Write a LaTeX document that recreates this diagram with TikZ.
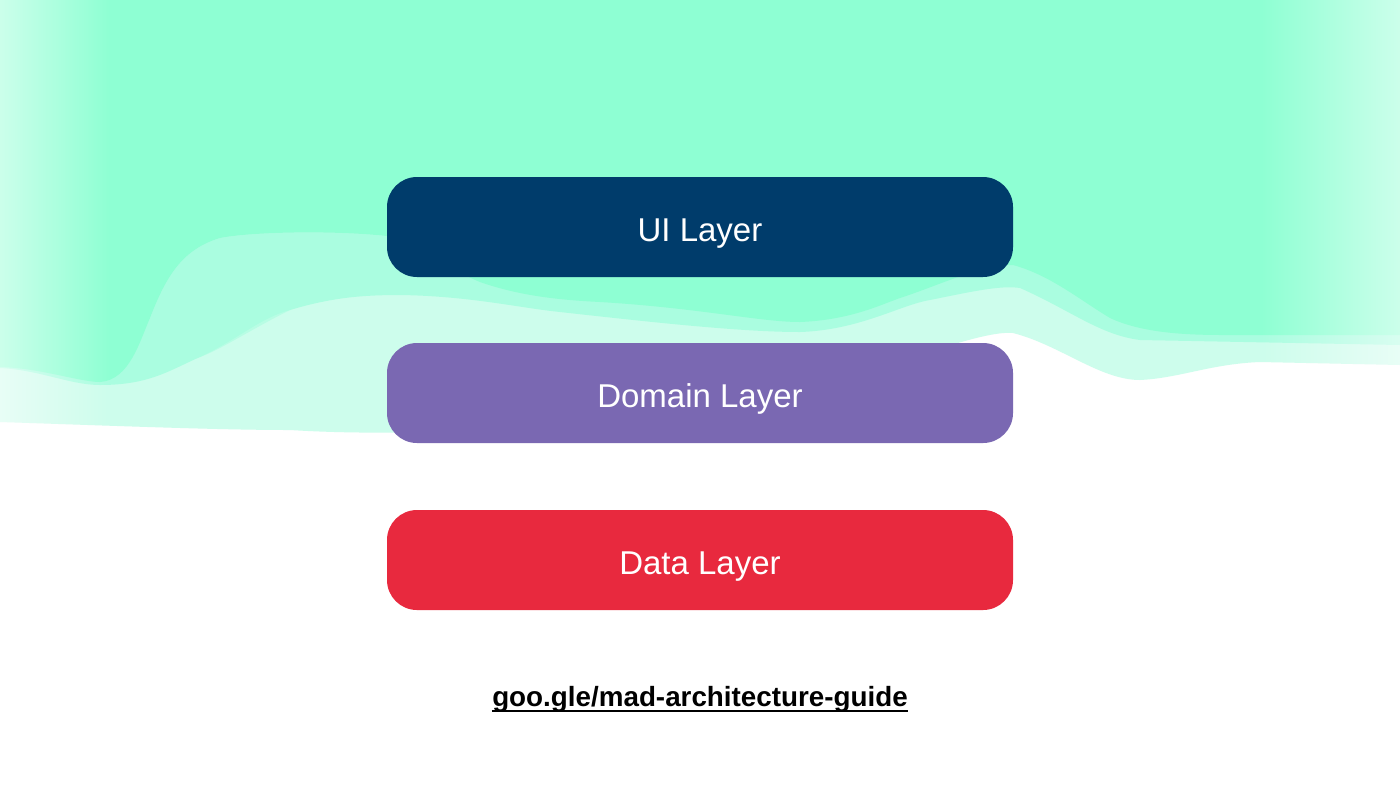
\documentclass[tikz,border=0pt]{standalone}
\usepackage{fontspec}
\setmainfont{Liberation Sans}
\usetikzlibrary{fadings}
\tikzfading[name=fadeRight, left color=transparent!0, right color=transparent!100]
\tikzfading[name=fadeLeft, left color=transparent!100, right color=transparent!0]
\definecolor{uiblue}{RGB}{0,60,107}
\definecolor{dompurple}{RGB}{122,104,178}
\definecolor{datared}{RGB}{232,41,62}
\definecolor{greenA}{RGB}{142,255,211}
\definecolor{greenB}{RGB}{170,253,224}
\definecolor{greenC}{RGB}{205,253,236}
\tikzset{
  layerbox/.style={fill=#1, draw=none, rounded corners=15pt, minimum width=313pt,
    minimum height=50pt, text=white, font=\fontsize{16.5}{18}\selectfont,
    text height=1.4em, text depth=0pt, inner sep=0pt},
  linktext/.style={font=\bfseries\fontsize{13.9}{16}\selectfont, text=black, inner sep=0pt}
}
\begin{document}
\begin{tikzpicture}[x=0.5pt, y=-0.5pt]
\useasboundingbox (0,0) rectangle (1400,788);
% background
\fill[white] (0,0) rectangle (1400,788);
\fill[greenC] (0,0) -- (0,422) .. controls (120,426) and (220,430) .. (290,430)
  .. controls (450,440) and (650,420) .. (800,390)
  .. controls (900,365) and (980,330) .. (1013,333)
  .. controls (1060,345) and (1100,380) .. (1140,380)
  .. controls (1180,378) and (1210,364) .. (1260,362)
  -- (1400,365) -- (1400,0) -- cycle;
\fill[greenB] (0,0) -- (0,368) .. controls (40,370) and (70,385) .. (100,385)
  .. controls (150,385) and (170,370) .. (200,357)
  .. controls (240,338) and (260,318) .. (290,310)
  .. controls (330,298) and (360,295) .. (400,295)
  .. controls (470,296) and (520,308) .. (560,312)
  .. controls (650,322) and (740,332) .. (800,332)
  .. controls (860,330) and (900,305) .. (930,300)
  .. controls (970,292) and (1000,285) .. (1020,288)
  .. controls (1070,310) and (1100,335) .. (1140,340)
  -- (1400,345) -- (1400,0) -- cycle;
\fill[greenA] (0,0) -- (0,367) .. controls (40,368) and (80,382) .. (100,382)
  .. controls (130,380) and (140,340) .. (150,318)
  .. controls (165,280) and (180,250) .. (220,238)
  .. controls (250,232) and (330,230) .. (387,236)
  .. controls (430,250) and (450,270) .. (480,282)
  .. controls (520,296) and (560,300) .. (600,302)
  .. controls (700,308) and (760,322) .. (800,322)
  .. controls (850,320) and (880,305) .. (900,298)
  .. controls (940,285) and (980,265) .. (1013,265)
  .. controls (1050,275) and (1080,300) .. (1110,318)
  .. controls (1140,332) and (1180,335) .. (1223,335)
  -- (1400,335) -- (1400,0) -- cycle;
% soft lighter swoosh on the left
\fill[greenB, opacity=0.6] (150,318) .. controls (165,280) and (180,250) .. (220,238)
  .. controls (250,232) and (330,230) .. (387,236) -- (387,292)
  .. controls (340,296) and (300,305) .. (290,310)
  .. controls (250,330) and (220,350) .. (200,357)
  .. controls (180,365) and (160,345) .. (150,318) -- cycle;
% edge fades
\fill[white, opacity=0.55, path fading=fadeRight] (0,0) rectangle (110,425);
\fill[white, opacity=0.55, path fading=fadeLeft] (1260,0) rectangle (1400,370);
% layers
\node[layerbox=uiblue] (ui) at (700,227) {UI Layer};
\node[layerbox=dompurple] (domain) at (700,393) {Domain Layer};
\node[layerbox=datared] (data) at (700,560) {Data Layer};
% link
\node[linktext, anchor=base] (link) at (700,706) {goo.gle/mad-architecture-guide};
\draw[line width=1.1pt, black] ([yshift=-2.6pt]link.base west) -- ([yshift=-2.6pt]link.base east);
\end{tikzpicture}
\end{document}
